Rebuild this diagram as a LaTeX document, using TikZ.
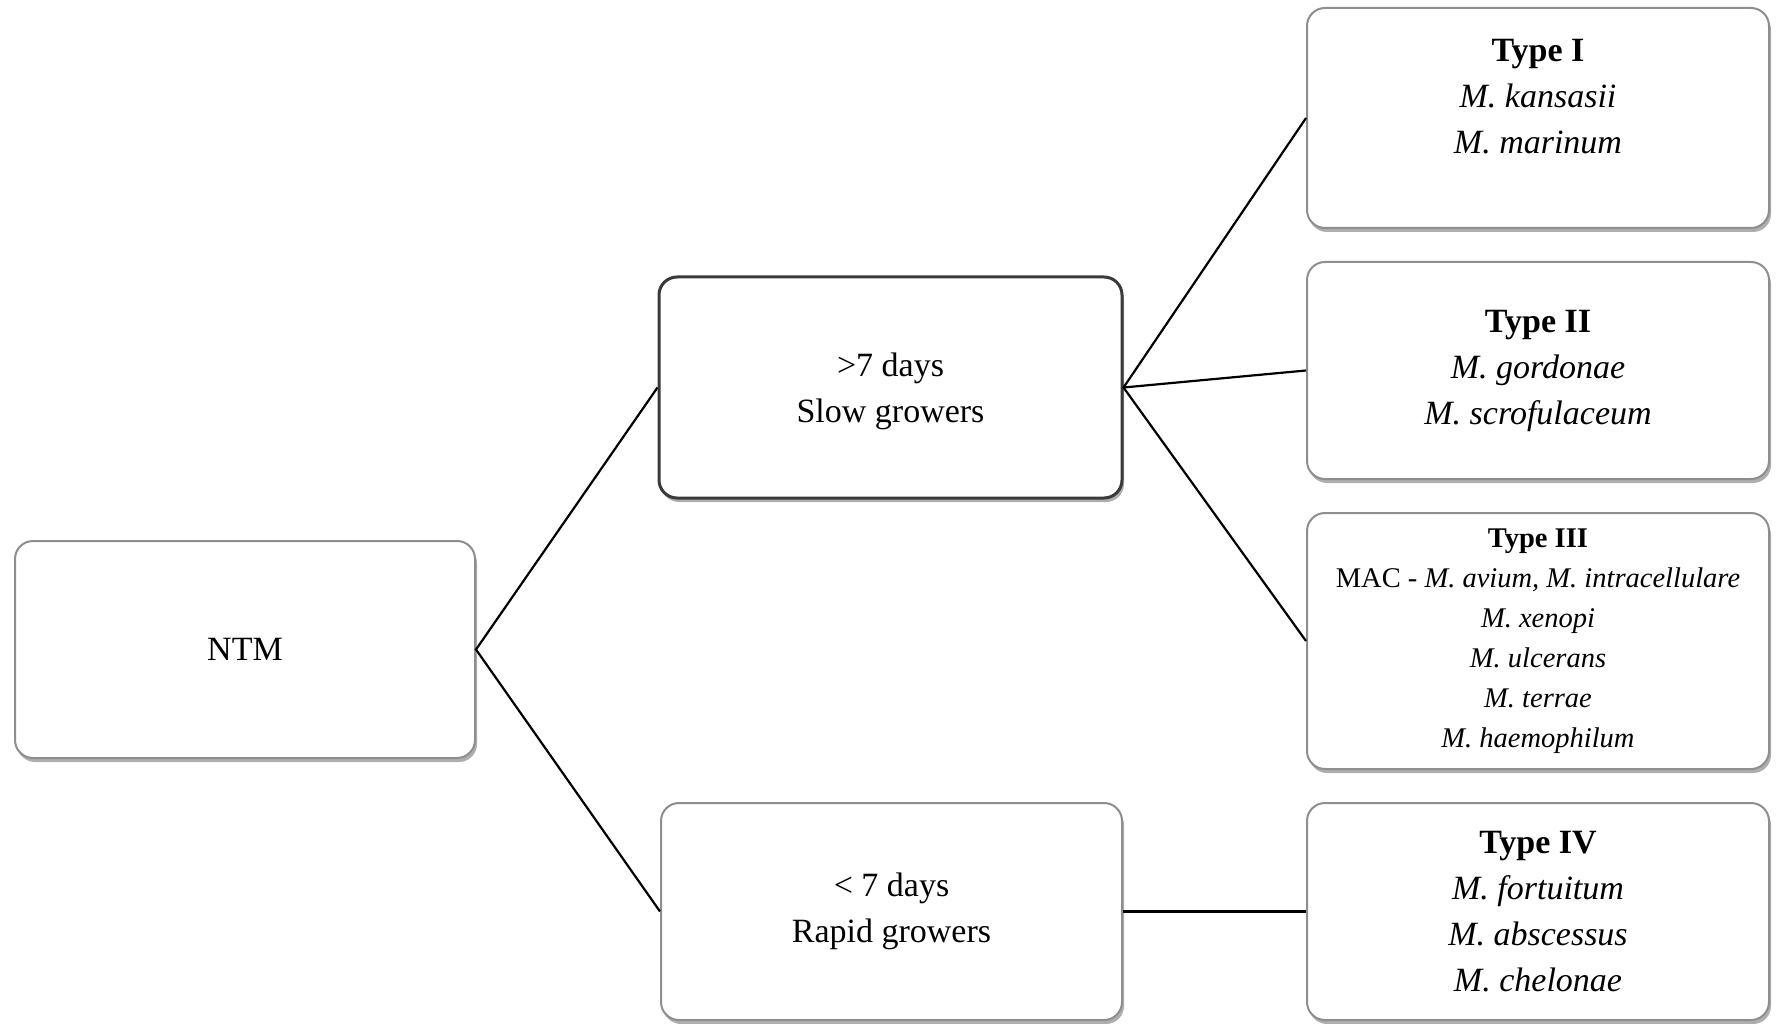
\documentclass[tikz,border=0pt]{standalone}
\usepackage{fontspec}
\setmainfont{Liberation Serif}
\usetikzlibrary{shadows}
\definecolor{boxgray}{HTML}{8E8E8E}
\definecolor{boxdark}{HTML}{3A3A3A}
\tikzset{
  basebox/.style={rectangle, rounded corners=18pt, fill=white, inner sep=0pt,
    align=center, minimum width=462pt,
    drop shadow={shadow xshift=2pt, shadow yshift=-4pt, opacity=0.45, fill=black!70}},
  graybox/.style={basebox, draw=boxgray, line width=2pt},
  darkbox/.style={basebox, draw=boxdark, line width=3pt},
  bigtext/.style={font=\fontsize{34}{46}\selectfont},
  smalltext/.style={font=\fontsize{28.5}{40}\selectfont},
  link/.style={draw=black, line width=2.2pt}
}
\begin{document}
\begin{tikzpicture}[x=1pt,y=-1pt]
\useasboundingbox[fill=white] (0,0) rectangle (1777,1024);
\node[graybox, bigtext, minimum width=460pt, minimum height=217pt] (ntm) at (245,649.5) {NTM};
\node[darkbox, bigtext, minimum width=463pt, minimum height=221pt] (slow) at (890.5,387.5) {\rule{0pt}{32pt}\\[-46pt]>7 days\\Slow growers};
\node[graybox, bigtext, minimum width=461pt, minimum height=217pt] (rapid) at (891.5,911.5) {< 7 days\\Rapid growers};
\node[graybox, bigtext, minimum height=220pt] (t1) at (1538,118) {\textbf{Type I}\\\textit{M. kansasii}\\\textit{M. marinum}\\[-16pt]\strut};
\node[graybox, bigtext, minimum height=217pt] (t2) at (1538,370.5) {\textbf{Type II}\\\textit{M. gordonae}\\\textit{M. scrofulaceum}};
\node[graybox, smalltext, minimum height=256pt] (t3) at (1538,641) {\textbf{Type III}\\MAC - \textit{M. avium, M. intracellulare}\\\textit{M. xenopi}\\\textit{M. ulcerans}\\\textit{M. terrae}\\\textit{M. haemophilum}};
\node[graybox, bigtext, minimum height=217pt] (t4) at (1538,911.5) {\textbf{Type IV}\\\textit{M. fortuitum}\\\textit{M. abscessus}\\\textit{M. chelonae}};
\draw[link] (slow.west) -- (ntm.east) -- (rapid.west);
\draw[link] (t1.west) -- (slow.east) -- (t3.west);
\draw[link] (slow.east) -- (t2.west);
\draw[link] (rapid.east) -- (t4.west);
\end{tikzpicture}
\end{document}
